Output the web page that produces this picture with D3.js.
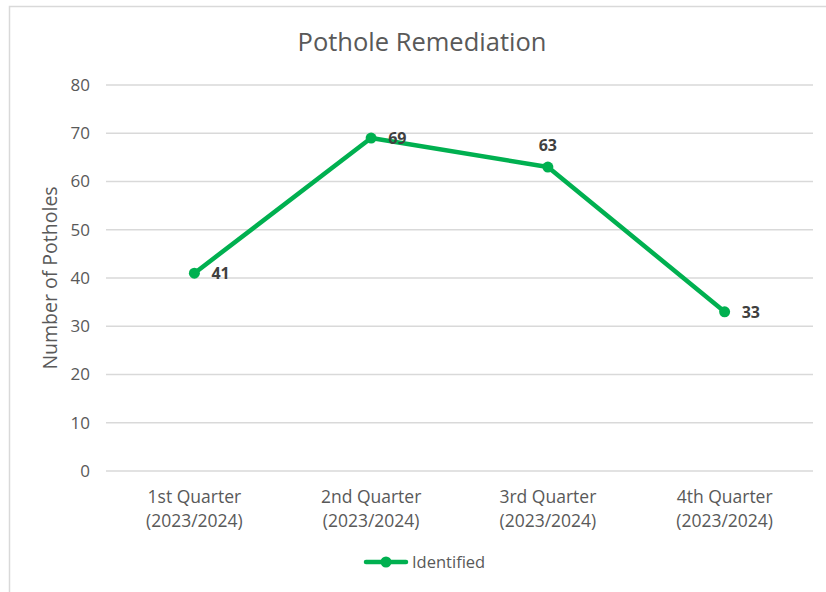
<!DOCTYPE html>
<html>
<head>
<meta charset="utf-8">
<script src="https://cdn.jsdelivr.net/npm/d3@7"></script>
<style>
  body { margin: 0; background: #fff; }
  svg { display: block; font-family: "Open Sans", "Noto Sans", sans-serif; }
</style>
</head>
<body>
<svg id="chart"></svg>
<script>
// data
const quarters = ["1st Quarter", "2nd Quarter", "3rd Quarter", "4th Quarter"];
const yearLabel = "(2023/2024)";
const identified = [41, 69, 63, 33];
const yTicks = [0, 10, 20, 30, 40, 50, 60, 70, 80];
const labelPos = ["right", "right", "above", "right"];

const width = 826, height = 592;
const margin = { top: 85, right: 13, bottom: 121, left: 106 };
const fontFam = "\"Open Sans\", \"Noto Sans\", sans-serif";

const svg = d3.select("#chart")
    .attr("width", width)
    .attr("height", height);

// chart border (only top & left visible in the crop)
svg.append("rect")
    .attr("x", 9.5)
    .attr("y", 6.5)
    .attr("width", 830)
    .attr("height", 600)
    .attr("fill", "#fff")
    .attr("stroke", "#d9d9d9")
    .attr("stroke-width", 1.5);

const x = d3.scaleBand()
    .domain(quarters)
    .range([margin.left, width - margin.right])
    .padding(0);

const y = d3.scaleLinear()
    .domain([0, 80])
    .range([height - margin.bottom, margin.top]);

// title
svg.append("text")
    .attr("x", 422)
    .attr("y", 51)
    .attr("text-anchor", "middle")
    .style("font-size", "25.5px")
    .style("fill", "#595959")
    .text("Pothole Remediation");

// gridlines
svg.append("g")
    .selectAll("line")
    .data(yTicks)
    .enter()
    .append("line")
    .attr("x1", margin.left)
    .attr("x2", width - margin.right)
    .attr("y1", d => y(d))
    .attr("y2", d => y(d))
    .attr("stroke", "#d9d9d9")
    .attr("stroke-width", 1.5);

// y axis labels
const yAxis = svg.append("g")
    .attr("transform", `translate(${margin.left - 16},0)`)
    .call(d3.axisLeft(y).tickValues(yTicks).tickSize(0).tickPadding(0));
yAxis.select(".domain").remove();
yAxis.selectAll("text")
    .style("font-family", fontFam)
    .style("font-size", "17px")
    .style("fill", "#595959");

// x axis labels (two lines)
const xAxis = svg.append("g")
    .attr("transform", `translate(0,${y(0)})`)
    .call(d3.axisBottom(x).tickSize(0).tickFormat(""));
xAxis.select(".domain").remove();
xAxis.selectAll(".tick")
    .append("text")
    .attr("text-anchor", "middle")
    .style("font-family", fontFam)
    .style("font-size", "17.5px")
    .style("fill", "#595959")
    .each(function(d) {
        const t = d3.select(this);
        t.append("tspan").attr("x", 0).attr("y", 32).text(d);
        t.append("tspan").attr("x", 0).attr("y", 56).text(yearLabel);
    });

// y axis title
svg.append("text")
    .attr("transform", `translate(57,${(y(0) + y(80)) / 2}) rotate(-90)`)
    .attr("text-anchor", "middle")
    .style("font-size", "19.5px")
    .style("fill", "#595959")
    .text("Number of Potholes");

// line
const cx = (d, i) => x(quarters[i]) + x.bandwidth() / 2;
const line = d3.line()
    .x(cx)
    .y(d => y(d));

svg.append("path")
    .datum(identified)
    .attr("fill", "none")
    .attr("stroke", "#00b050")
    .attr("stroke-width", 4.5)
    .attr("stroke-linejoin", "round")
    .attr("d", line);

svg.selectAll(".pt")
    .data(identified)
    .enter()
    .append("circle")
    .attr("class", "pt")
    .attr("cx", cx)
    .attr("cy", d => y(d))
    .attr("r", 5.5)
    .attr("fill", "#00b050");

// data labels
svg.selectAll(".val")
    .data(identified)
    .enter()
    .append("text")
    .attr("class", "val")
    .attr("x", (d, i) => cx(d, i) + (labelPos[i] === "right" ? 17 : 0))
    .attr("y", (d, i) => y(d) + (labelPos[i] === "right" ? 6 : -16))
    .attr("text-anchor", (d, i) => labelPos[i] === "right" ? "start" : "middle")
    .style("font-size", "16px")
    .style("font-weight", "bold")
    .style("fill", "#404040")
    .text(d => d);

// legend
const legend = svg.append("g").attr("transform", "translate(364,562)");
legend.append("line")
    .attr("x1", 2).attr("x2", 42)
    .attr("stroke", "#00b050")
    .attr("stroke-width", 4.5)
    .attr("stroke-linecap", "round");
legend.append("circle")
    .attr("cx", 22)
    .attr("r", 5.5)
    .attr("fill", "#00b050");
legend.append("text")
    .attr("x", 48)
    .attr("y", 6)
    .style("font-size", "16.5px")
    .style("fill", "#595959")
    .text("Identified");
</script>
</body>
</html>
